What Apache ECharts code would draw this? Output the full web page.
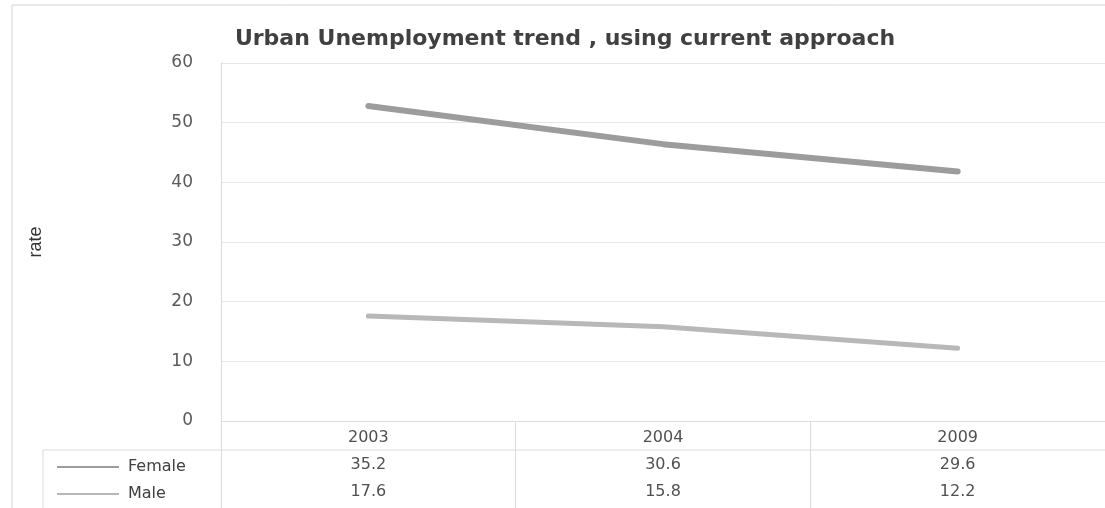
<!DOCTYPE html>
<html>
<head>
<meta charset="utf-8">
<title>Urban Unemployment trend</title>
<script src="https://cdn.jsdelivr.net/npm/echarts@6/dist/echarts.min.js"></script>
<style>
  html, body { margin: 0; padding: 0; background: #ffffff; }
  #chart { width: 1105px; height: 508px; }
</style>
</head>
<body>
<div id="chart"></div>
<script>
// Survey years and unemployment rates (percent) by sex
const years = ['2003', '2004', '2009'];
const female = [35.2, 30.6, 29.6];
const male = [17.6, 15.8, 12.2];
const yTicks = { min: 0, max: 60, interval: 10 };

const FONT = '"DejaVu Sans", "Open Sans", sans-serif';
const TEXT = '#404040';
const RULE = '#dcdcdc';

const chart = echarts.init(document.getElementById('chart'), null, { renderer: 'canvas' });

chart.setOption({
  backgroundColor: '#ffffff',
  animation: false,
  title: {
    text: 'Urban Unemployment trend , using current approach',
    left: 560,
    textAlign: 'center',
    top: 23,
    textStyle: { fontFamily: FONT, fontSize: 22, fontWeight: 'bold', color: TEXT }
  },
  legend: {
    data: ['Female', 'Male'],
    orient: 'vertical',
    left: 52,
    top: 454,
    itemWidth: 62,
    itemHeight: 2,
    itemGap: 11,
    icon: 'rect',
    textStyle: { fontFamily: FONT, fontSize: 16, color: TEXT, padding: [0, 0, 0, 4] }
  },
  grid: { left: 221, right: 0, top: 63, bottom: 87 },
  xAxis: {
    type: 'category',
    data: years,
    boundaryGap: true,
    axisLine: { show: true, lineStyle: { color: RULE, width: 1 } },
    axisTick: { show: true, interval: 0, length: 87, inside: false, lineStyle: { color: RULE, width: 1 } },
    axisLabel: {
      margin: 3,
      interval: 0,
      formatter: function (val, idx) {
        return '{y|' + val + '}\n{v|' + female[idx] + '}\n{v|' + male[idx] + '}';
      },
      rich: {
        y: { fontFamily: FONT, fontSize: 16, lineHeight: 27, color: '#505050' },
        v: { fontFamily: FONT, fontSize: 16, lineHeight: 27, color: '#505050' }
      }
    }
  },
  yAxis: {
    type: 'value',
    min: yTicks.min,
    max: yTicks.max,
    interval: yTicks.interval,
    name: 'rate',
    nameLocation: 'middle',
    nameRotate: 90,
    nameGap: 176,
    nameTextStyle: { fontFamily: '"Liberation Sans Narrow", "Liberation Sans", sans-serif', fontSize: 18, color: '#333333' },
    axisLine: { show: true, lineStyle: { color: RULE, width: 1 } },
    axisTick: { show: false },
    axisLabel: { margin: 28, fontFamily: FONT, fontSize: 17, color: '#5a5a5a' },
    splitLine: { show: true, lineStyle: { color: '#e6e6e6', width: 1 } }
  },
  series: [
    {
      name: 'Male',
      type: 'line',
      stack: 'rate',
      data: male,
      symbol: 'none',
      color: '#b8b8b8',
      lineStyle: { color: '#b8b8b8', width: 5, cap: 'round' },
      z: 3
    },
    {
      name: 'Female',
      type: 'line',
      stack: 'rate',
      data: female,
      symbol: 'none',
      color: '#9c9c9c',
      lineStyle: { color: '#9c9c9c', width: 6, cap: 'round' },
      z: 4
    }
  ],
  graphic: [
    // outer frame of the chart area
    { type: 'rect', shape: { x: 12, y: 5, width: 1110, height: 520 },
      style: { fill: 'none', stroke: '#d4d4d4', lineWidth: 1 }, silent: true, z: 0 },
    // data table: rule under the year row and left edge of the legend column
    { type: 'line', shape: { x1: 43, y1: 450, x2: 1105, y2: 450 },
      style: { stroke: RULE, lineWidth: 1 }, silent: true },
    { type: 'line', shape: { x1: 43, y1: 450, x2: 43, y2: 508 },
      style: { stroke: RULE, lineWidth: 1 }, silent: true }
  ]
});
</script>
</body>
</html>
